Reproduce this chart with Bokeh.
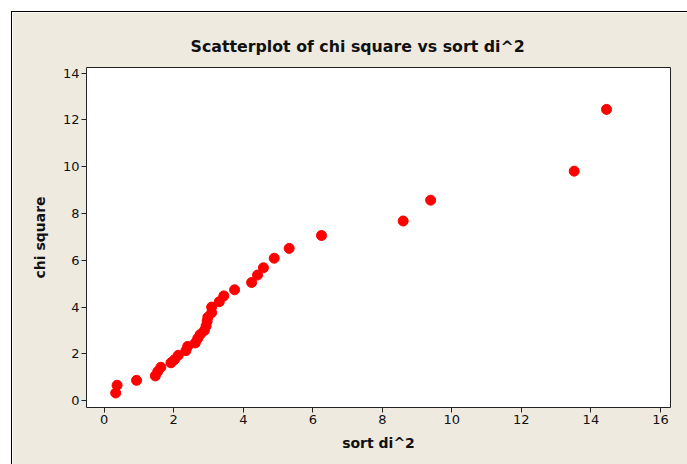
from bokeh.plotting import figure
from bokeh.models import Range1d, SingleIntervalTicker, Title
from bokeh.embed import file_html
from bokeh.resources import INLINE

# data
sort_di2 = [0.33, 0.37, 0.93, 1.47, 1.54, 1.63, 1.92, 2.02, 2.13, 2.35, 2.40,
            2.62, 2.69, 2.76, 2.88, 2.93, 2.96, 2.98, 3.09, 3.09, 3.31, 3.44,
            3.75, 4.24, 4.41, 4.58, 4.89, 5.32, 6.25, 8.60, 9.39, 13.52, 14.45]
chi_square = [0.33, 0.66, 0.87, 1.06, 1.25, 1.43, 1.62, 1.75, 1.94, 2.14, 2.32,
              2.47, 2.66, 2.83, 3.00, 3.19, 3.40, 3.57, 3.76, 4.00, 4.23, 4.48,
              4.74, 5.05, 5.37, 5.68, 6.09, 6.51, 7.06, 7.68, 8.57, 9.81, 12.45]

BG = "#EEEAE0"
FONT = "DejaVu Sans"

p = figure(width=676, height=453, output_backend="svg", toolbar_location=None,
           x_range=Range1d(-0.51, 16.29), y_range=Range1d(-0.29, 14.24),
           min_border_left=74, min_border_right=18, min_border_top=55,
           min_border_bottom=58, background_fill_color="white",
           border_fill_color=BG, outline_line_color="#222222",
           outline_line_width=1)
p.margin = (11, 0, 0, 11)
p.styles = {"border-top": "1px solid #000", "border-left": "1px solid #000",
            "box-sizing": "border-box"}

p.add_layout(Title(text="Scatterplot of chi square vs sort di^2", align="left",
                   offset=104, text_font=FONT, text_font_size="15.8px",
                   text_font_style="bold", text_color="#111111", standoff=24),
             "above")

p.scatter(sort_di2, chi_square, size=10, color="#FF0000", line_color="#FF0000")

p.grid.visible = False
for ax in (p.xaxis[0], p.yaxis[0]):
    ax.axis_line_color = None
    ax.major_tick_line_color = "#222222"
    ax.major_tick_in = 0
    ax.major_tick_out = 5
    ax.minor_tick_line_color = None
    ax.major_label_text_font = FONT
    ax.major_label_text_font_size = "13px"
    ax.major_label_text_color = "#111111"
    ax.major_label_standoff = 2
    ax.axis_label_text_font = FONT
    ax.axis_label_text_font_size = "14px"
    ax.axis_label_text_font_style = "bold"
    ax.axis_label_text_color = "#111111"

p.xaxis.ticker = SingleIntervalTicker(interval=2)
p.yaxis.ticker = SingleIntervalTicker(interval=2)
p.xaxis.axis_label = "sort di^2"
p.yaxis.axis_label = "chi square"
p.xaxis.axis_label_standoff = 8
p.yaxis.axis_label_standoff = 12

open("out.html", "w").write(file_html(p, INLINE))
